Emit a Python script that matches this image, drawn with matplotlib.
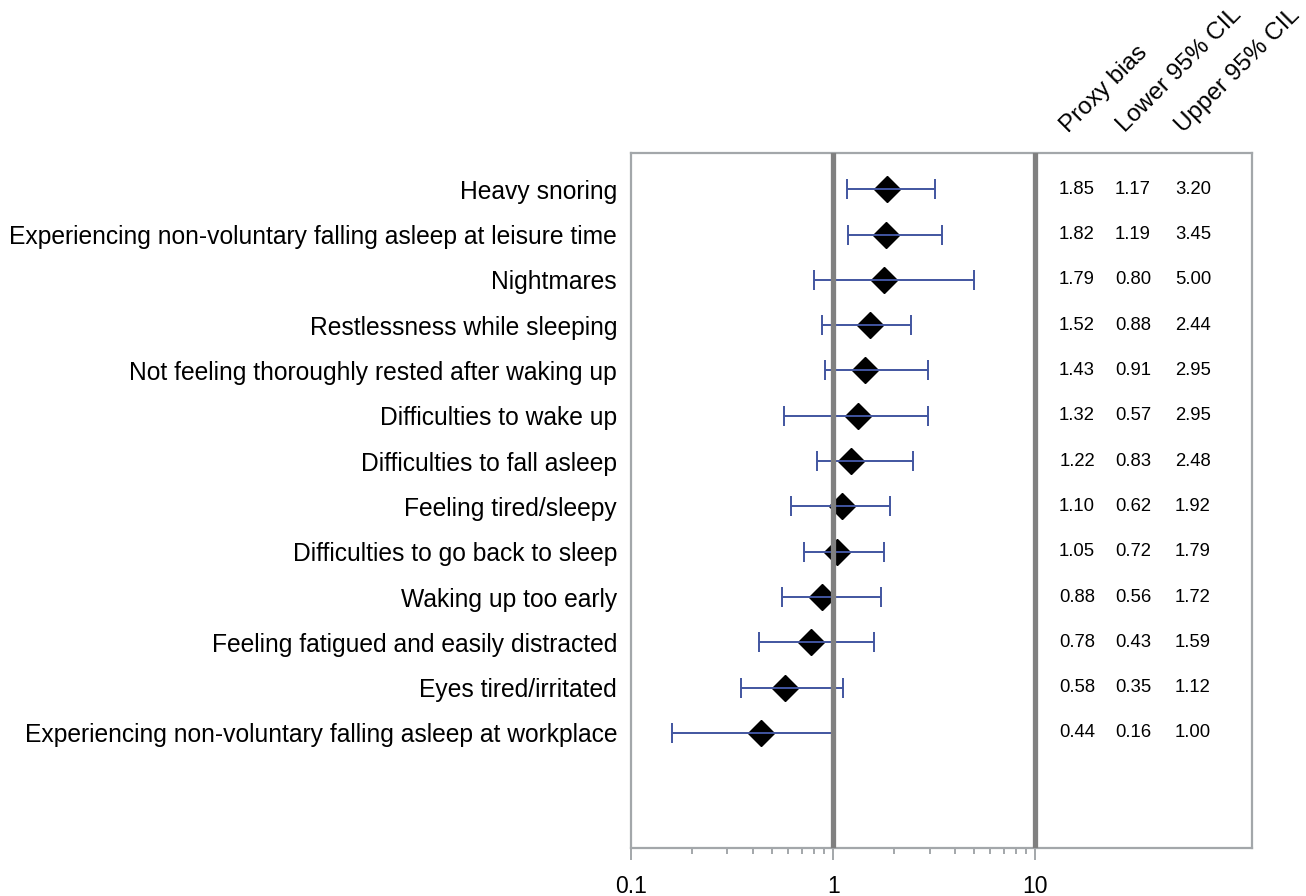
import matplotlib
matplotlib.use("Agg")
import matplotlib.pyplot as plt
from matplotlib.ticker import NullFormatter, FixedLocator, FixedFormatter

plt.rcParams['font.family'] = ['Liberation Sans', 'DejaVu Sans']

categories = [
    "Heavy snoring",
    "Experiencing non-voluntary falling asleep at leisure time",
    "Nightmares",
    "Restlessness while sleeping",
    "Not feeling thoroughly rested after waking up",
    "Difficulties to wake up",
    "Difficulties to fall asleep",
    "Feeling tired/sleepy",
    "Difficulties to go back to sleep",
    "Waking up too early",
    "Feeling fatigued and easily distracted",
    "Eyes tired/irritated",
    "Experiencing non-voluntary falling asleep at workplace",
]
proxy_bias = [1.85, 1.82, 1.79, 1.52, 1.43, 1.32, 1.22, 1.10, 1.05, 0.88, 0.78, 0.58, 0.44]
lower_cil = [1.17, 1.19, 0.80, 0.88, 0.91, 0.57, 0.83, 0.62, 0.72, 0.56, 0.43, 0.35, 0.16]
upper_cil = [3.20, 3.45, 5.00, 2.44, 2.95, 2.95, 2.48, 1.92, 1.79, 1.72, 1.59, 1.12, 1.00]
column_headers = ["Proxy bias", "Lower 95% CIL", "Upper 95% CIL"]
ref_lines = [1, 10]
x_ticks = [0.1, 1, 10]
x_ticklabels = ["0.1", "1", "10"]

fig = plt.figure(figsize=(13.06, 8.96), dpi=100)
ax = fig.add_axes([631/1306, 1-848/896, (1252-631)/1306, (848-153)/896])

ypos = list(range(len(categories)))
spine_col = "#a3a7aa"

for r in ref_lines:
    ax.axvline(r, color="#808080", lw=3.8, zorder=6)

ax.plot(proxy_bias, ypos, linestyle="none", marker="D", ms=13.5,
        color="black", zorder=3)
xerr = [[p - l for p, l in zip(proxy_bias, lower_cil)],
        [u - p for p, u in zip(proxy_bias, upper_cil)]]
ax.errorbar(proxy_bias, ypos, xerr=xerr, fmt="none", ecolor="#4155a0",
            elinewidth=1.4, capsize=7.5, capthick=1.4, zorder=4)

ax.set_xscale("log")
ax.set_xlim(0.1, 118)
ax.set_ylim(len(categories) - 1 + 2.54, -0.8)

ax.xaxis.set_major_locator(FixedLocator(x_ticks))
ax.xaxis.set_major_formatter(FixedFormatter(x_ticklabels))
ax.xaxis.set_minor_locator(FixedLocator([m * d for d in (0.1, 1) for m in range(2, 10)]))
ax.xaxis.set_minor_formatter(NullFormatter())
ax.tick_params(axis="x", which="major", length=8.5, width=1.4, color=spine_col,
               labelsize=16.5, pad=11)
ax.tick_params(axis="x", which="minor", length=4.5, width=1.4, color=spine_col)

ax.set_yticks(ypos)
ax.set_yticklabels(categories, fontsize=17.7)
ax.tick_params(axis="y", length=0, pad=10)

for s in ax.spines.values():
    s.set_color(spine_col)
    s.set_linewidth(1.6)

col_x = [(1077 - 631) / 621, (1133 - 631) / 621, (1193 - 631) / 621]
trans = ax.get_yaxis_transform()
for y, vals in zip(ypos, zip(proxy_bias, lower_cil, upper_cil)):
    for cx, v in zip(col_x, vals):
        ax.text(cx, y, f"{v:.2f}", transform=trans, ha="center", va="center",
                fontsize=13.3)

hdr_x = [(1072 - 631) / 621, (1129 - 631) / 621, (1187 - 631) / 621]
for hx, h in zip(hdr_x, column_headers):
    ax.text(hx, 1 + (153 - 137) / 695, h, transform=ax.transAxes, rotation=45,
            rotation_mode="anchor", ha="left", va="bottom", fontsize=17.5)

fig.savefig("out.png", dpi=100)
